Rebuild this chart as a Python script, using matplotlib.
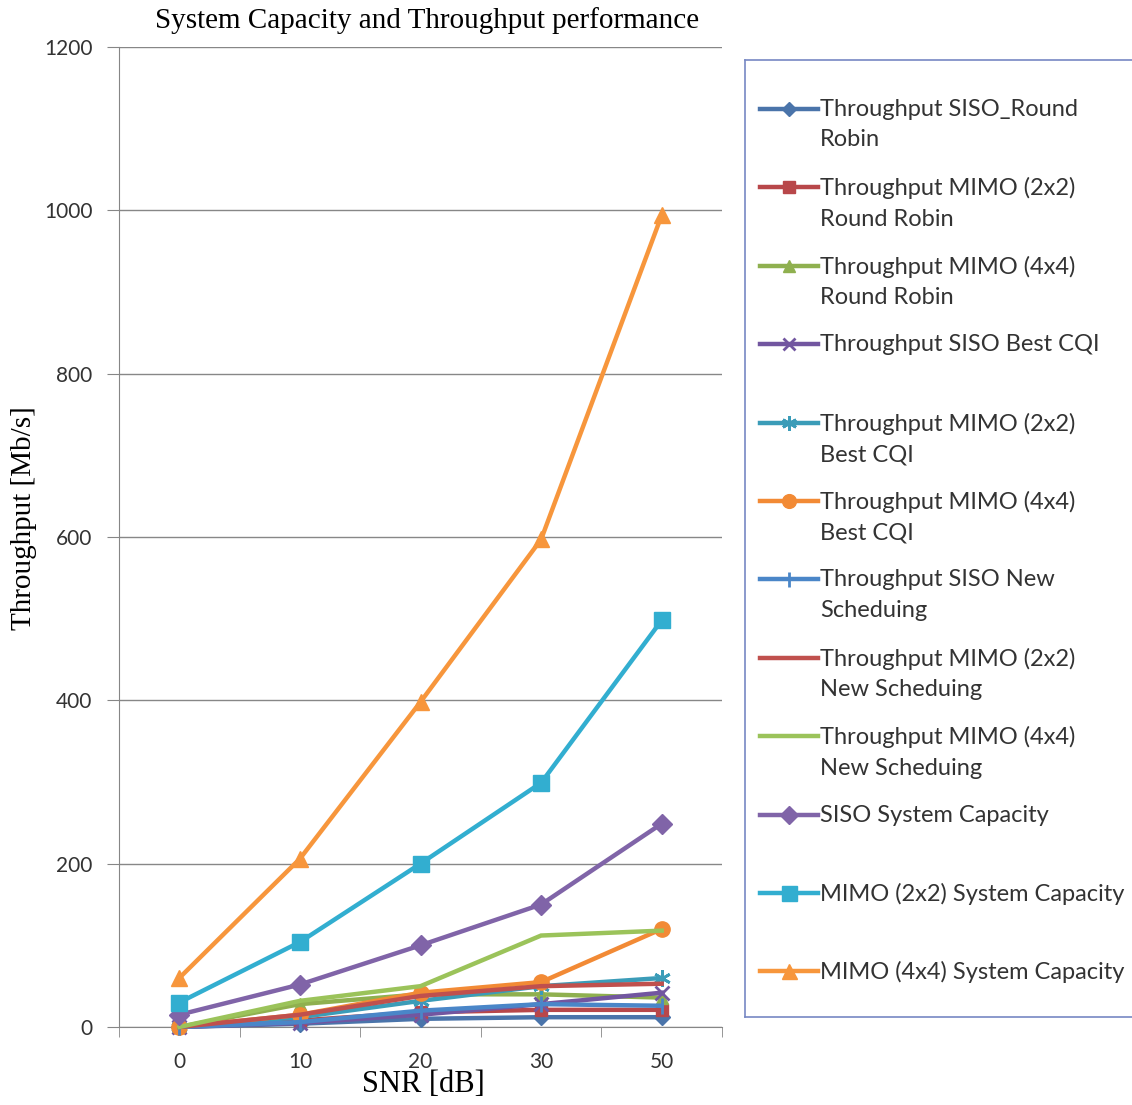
import matplotlib
matplotlib.use("Agg")
import matplotlib.pyplot as plt
import numpy as np

# x categories (plotted as equally spaced categories, like the Excel original)
snr_labels = ["0", "10", "20", "30", "50"]

# throughput / capacity values in Mb/s
siso_rr = [0, 4, 10, 12, 12]
mimo2_rr = [0, 8, 18, 21, 21]
mimo4_rr = [0, 28, 40, 40, 36]
siso_cqi = [0, 5, 15, 28, 42]
mimo2_cqi = [0, 12, 32, 50, 60]
mimo4_cqi = [0, 15, 42, 55, 120]
siso_new = [0, 6, 20, 28, 26]
mimo2_new = [0, 15, 38, 50, 53]
mimo4_new = [0, 32, 50, 112, 118]
siso_cap = [15, 52, 100, 150, 249]
mimo2_cap = [30, 104, 200, 299, 498]
mimo4_cap = [60, 206, 398, 597, 994]

series_names = [
    "Throughput SISO_Round\nRobin",
    "Throughput MIMO (2x2)\nRound Robin",
    "Throughput MIMO (4x4)\nRound Robin",
    "Throughput SISO Best CQI",
    "Throughput MIMO (2x2)\nBest CQI",
    "Throughput MIMO (4x4)\nBest CQI",
    "Throughput SISO New\nScheduing",
    "Throughput MIMO (2x2)\nNew Scheduing",
    "Throughput MIMO (4x4)\nNew Scheduing",
    "SISO System Capacity",
    "MIMO (2x2) System Capacity",
    "MIMO (4x4) System Capacity",
]
series_values = [siso_rr, mimo2_rr, mimo4_rr, siso_cqi, mimo2_cqi, mimo4_cqi,
                 siso_new, mimo2_new, mimo4_new, siso_cap, mimo2_cap, mimo4_cap]

colors = ["#4a74aa", "#b8474a", "#8fb04f", "#7256a0", "#3b9cb8", "#f28a35",
          "#4a86c8", "#c0504d", "#9bc35a", "#8064a8", "#32aed0", "#f7963c"]
markers = ["D", "s", "^", "x", (6, 2, 0), "o", "|", None, None, "D", "s", "^"]
msizes = [8, 9, 9, 10, 12, 11, 12, 0, 0, 10, 12, 12]


def edge_w(m):
    return 2 if m in ("x", "|") or isinstance(m, tuple) else 1


W, H = 1132, 1105
fig = plt.figure(figsize=(W / 100, H / 100), dpi=100)
ax = fig.add_axes([119 / W, 1 - 1027 / H, (722 - 119) / W, (1027 - 47) / H])

x = np.arange(len(snr_labels))
for vals, c, m, ms in zip(series_values, colors, markers, msizes):
    ax.plot(x, vals, color=c, lw=3.2, marker=m, markersize=ms,
            markeredgewidth=edge_w(m), markeredgecolor=c, markerfacecolor=c,
            solid_joinstyle="miter", clip_on=False, zorder=3)

tick_font = "Lato"
serif = "Liberation Serif"

ax.set_xlim(-0.5, len(snr_labels) - 0.5)
ax.set_ylim(0, 1200)
ax.set_yticks(np.arange(0, 1201, 200))
ax.set_xticks(x)
ax.set_xticklabels(snr_labels, fontfamily=tick_font, fontsize=15, color="#333333")
ax.set_yticklabels([str(v) for v in range(0, 1201, 200)], fontfamily=tick_font,
                   fontsize=15, color="#333333")
ax.set_xticks(np.arange(-0.5, len(snr_labels)), minor=True)
ax.tick_params(axis="x", which="major", length=0, pad=18)
ax.tick_params(axis="x", which="minor", length=7, color="#868686", direction="out")
ax.tick_params(axis="y", length=9, color="#868686", direction="out", pad=10)
ax.grid(axis="y", color="#878787", lw=1)
ax.set_axisbelow(True)
for s in ["top", "right"]:
    ax.spines[s].set_visible(False)
for s in ["left", "bottom"]:
    ax.spines[s].set_color("#868686")

fig.text(427 / W, 1 - 21 / H, "System Capacity and Throughput performance",
         ha="center", va="center", fontfamily=serif, fontsize=21)
fig.text(423 / W, 1 - 1085 / H, "SNR [dB]", ha="center", va="center",
         fontfamily=serif, fontsize=22)
fig.text(24 / W, 1 - 518 / H, "Throughput [Mb/s]", ha="center", va="center",
         rotation=90, fontfamily=serif, fontsize=21)

# legend box drawn by hand so the handle lines up with the first text line
box_l, box_t, box_b = 745, 60, 1017
lax = fig.add_axes([box_l / W, 1 - box_b / H, (W + 10 - box_l) / W, (box_b - box_t) / H])
lax.set_xlim(0, W + 10 - box_l)
lax.set_ylim(box_b - box_t, 0)
lax.set_xticks([])
lax.set_yticks([])
for s in lax.spines.values():
    s.set_color("#7788c4")
    s.set_linewidth(1.2)
for i, (name, c, m, ms) in enumerate(zip(series_names, colors, markers, msizes)):
    yy = 49 + 78.4 * i
    lax.plot([15, 73], [yy, yy], color=c, lw=3.2, marker=None)
    if m is not None:
        lax.plot([44], [yy], color=c, marker=m, markersize=ms * 0.9,
                 markeredgewidth=edge_w(m), markeredgecolor=c, markerfacecolor=c)
    lax.text(75, yy - 10, name, ha="left", va="top", fontfamily=tick_font,
             fontsize=17, color="#333333", linespacing=1.55)

fig.savefig("out.png", dpi=100, facecolor="white")
